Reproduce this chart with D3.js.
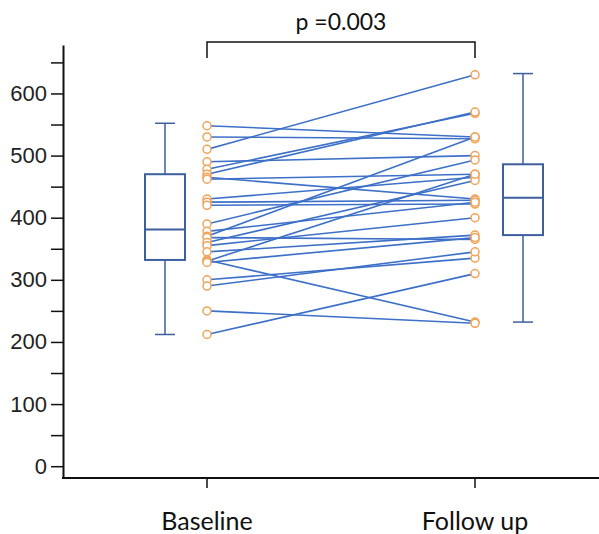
<!DOCTYPE html>
<html>
<head>
<meta charset="utf-8">
<script src="https://cdn.jsdelivr.net/npm/d3@7"></script>
<style>
	body { margin: 0; background: #fff; }
	svg { display: block; }
</style>
</head>
<body>
<div id="chart"></div>
<script>
// groups on the x axis
var groups = ['Baseline', 'Follow up'];

// paired measurements, one entry per subject
var baseline = [548, 530, 510, 490, 478, 470, 465, 462, 430, 425, 420, 390, 378, 370, 368, 360, 355, 345, 332, 330, 328, 300, 290, 250, 212];
var followUp = [530, 527, 630, 500, 568, 570, 430, 470, 465, 428, 422, 493, 425, 530, 365, 460, 400, 372, 232, 470, 368, 335, 345, 230, 310];

// box plot summaries: [min, q1, median, q3, max]
var boxStats = [
	[212, 332, 381, 470, 552],
	[232, 372, 432, 486, 632]
];

var yTicks = [0, 100, 200, 300, 400, 500, 600];
var yMinorTicks = [50, 150, 250, 350, 450, 550, 650];
var pLabel = 'p =0.003';

var width = 599, height = 534;

var svg = d3.select('#chart').append('svg')
	.attr('width', width)
	.attr('height', height);

var x = d3.scalePoint().domain(groups).range([207, 475]);
var y = d3.scaleLinear().domain([-19, 678]).range([478, 45]);

// box sits beside the points of each group
var boxOffset = { 'Baseline': -42, 'Follow up': 48 };
var boxW = 40, capW = 20;

// y axis
svg.append('g')
	.attr('transform', 'translate(63,0)')
	.call(d3.axisLeft(y).tickValues(yTicks).tickSize(12).tickPadding(4).tickSizeOuter(0))
	.call(function (g) {
		g.select('.domain').attr('stroke', '#111').attr('stroke-width', 2);
		g.selectAll('line').attr('stroke', '#111').attr('stroke-width', 1.5);
		g.selectAll('text')
			.style('font-family', '"Liberation Sans", Arial, sans-serif')
			.style('font-size', '22px')
			.style('fill', '#222');
	});

svg.append('g')
	.attr('transform', 'translate(63,0)')
	.call(d3.axisLeft(y).tickValues(yMinorTicks).tickSize(12).tickFormat('').tickSizeOuter(0))
	.call(function (g) {
		g.select('.domain').remove();
		g.selectAll('line').attr('stroke', '#111').attr('stroke-width', 1.5);
	});

// x axis
var xAxisG = svg.append('g')
	.attr('transform', 'translate(0,' + y(-19) + ')');
xAxisG.append('line')
	.attr('x1', 62).attr('x2', 599)
	.attr('stroke', '#111').attr('stroke-width', 2);
xAxisG.selectAll('.xt')
	.data(groups)
	.enter().append('line')
		.attr('class', 'xt')
		.attr('x1', function (d) { return x(d); })
		.attr('x2', function (d) { return x(d); })
		.attr('y1', 0).attr('y2', 10)
		.attr('stroke', '#111').attr('stroke-width', 1.5);
xAxisG.selectAll('.xl')
	.data(groups)
	.enter().append('text')
		.attr('class', 'xl')
		.attr('x', function (d) { return x(d); })
		.attr('y', 52)
		.attr('text-anchor', 'middle')
		.style('font-family', 'Lato, "Open Sans", sans-serif')
		.style('font-size', '25px')
		.style('fill', '#111')
		.text(function (d) { return d; });

// box plots
var boxes = svg.selectAll('.box')
	.data(boxStats)
	.enter().append('g')
		.attr('class', 'box')
		.attr('transform', function (d, i) { return 'translate(' + (x(groups[i]) + boxOffset[groups[i]]) + ',0)'; });

var boxColor = '#3d5f9e';
boxes.append('line')
	.attr('y1', function (d) { return y(d[0]); })
	.attr('y2', function (d) { return y(d[1]); })
	.attr('stroke', boxColor).attr('stroke-width', 1.5);
boxes.append('line')
	.attr('y1', function (d) { return y(d[3]); })
	.attr('y2', function (d) { return y(d[4]); })
	.attr('stroke', boxColor).attr('stroke-width', 1.5);
boxes.selectAll('.cap')
	.data(function (d) { return [d[0], d[4]]; })
	.enter().append('line')
		.attr('class', 'cap')
		.attr('x1', -capW / 2).attr('x2', capW / 2)
		.attr('y1', function (d) { return y(d); })
		.attr('y2', function (d) { return y(d); })
		.attr('stroke', boxColor).attr('stroke-width', 1.5);
boxes.append('rect')
	.attr('x', -boxW / 2)
	.attr('width', boxW)
	.attr('y', function (d) { return y(d[3]); })
	.attr('height', function (d) { return y(d[1]) - y(d[3]); })
	.attr('fill', 'none')
	.attr('stroke', boxColor).attr('stroke-width', 2);
boxes.append('line')
	.attr('x1', -boxW / 2).attr('x2', boxW / 2)
	.attr('y1', function (d) { return y(d[2]); })
	.attr('y2', function (d) { return y(d[2]); })
	.attr('stroke', boxColor).attr('stroke-width', 2);

// paired lines
var pairs = baseline.map(function (b, i) { return [b, followUp[i]]; });
svg.append('g').selectAll('line')
	.data(pairs)
	.enter().append('line')
		.attr('x1', x(groups[0]))
		.attr('x2', x(groups[1]))
		.attr('y1', function (d) { return y(d[0]); })
		.attr('y2', function (d) { return y(d[1]); })
		.attr('stroke', '#3d70c8')
		.attr('stroke-width', 1.6);

// points
var pointColor = '#f0a35a';
[baseline, followUp].forEach(function (vals, gi) {
	svg.append('g').selectAll('circle')
		.data(vals)
		.enter().append('circle')
			.attr('cx', x(groups[gi]))
			.attr('cy', function (d) { return y(d); })
			.attr('r', 4)
			.attr('fill', '#fff')
			.attr('stroke', pointColor)
			.attr('stroke-width', 1.5);
});

// significance bracket
var bracketY = 42;
svg.append('path')
	.attr('d', 'M' + x(groups[0]) + ',' + (bracketY + 16) + 'V' + bracketY + 'H' + x(groups[1]) + 'V' + (bracketY + 16))
	.attr('fill', 'none')
	.attr('stroke', '#111')
	.attr('stroke-width', 1.5);
svg.append('text')
	.attr('x', (x(groups[0]) + x(groups[1])) / 2)
	.attr('y', 30)
	.attr('text-anchor', 'middle')
	.style('font-family', 'Lato, "Open Sans", sans-serif')
	.style('font-size', '23px')
	.style('fill', '#111')
	.text(pLabel);
</script>
</body>
</html>
